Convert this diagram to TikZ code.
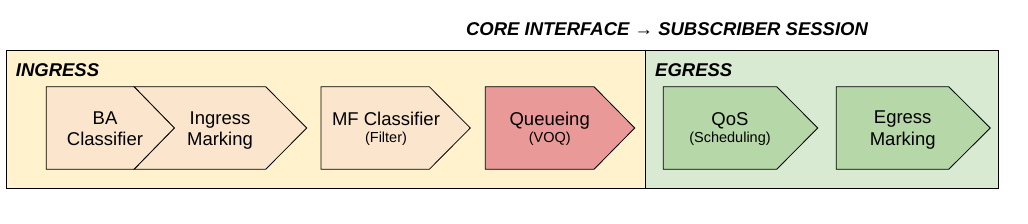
\documentclass[tikz,border=0pt]{standalone}
\usepackage{fontspec}
\setmainfont{Liberation Sans}
\begin{document}
\begin{tikzpicture}[x=1pt,y=-1pt,
  lbl/.style={anchor=base,inner sep=0pt,font=\fontsize{18.5}{21}\selectfont},
  sml/.style={anchor=base,inner sep=0pt,font=\fontsize{14.5}{17}\selectfont},
  ttl/.style={anchor=base west,inner sep=0pt,font=\fontsize{18.5}{21}\selectfont\bfseries\itshape},
  chev/.style={draw=black,line width=0.8pt,line join=miter}]
\definecolor{ingbg}{HTML}{FFF2CC}
\definecolor{egbg}{HTML}{D9EAD3}
\definecolor{ingbox}{HTML}{FCE5CD}
\definecolor{qbox}{HTML}{EA9999}
\definecolor{egbox}{HTML}{B6D7A8}
\useasboundingbox (0,0) rectangle (1028,224);
% title
\node[anchor=base,inner sep=0pt,font=\fontsize{18.5}{21}\selectfont\bfseries\itshape] (title) at (667,36) {CORE INTERFACE \textmd{→} SUBSCRIBER SESSION};
% panels
\draw[fill=ingbg,line width=1pt] (6.3,50.7) rectangle (645.3,188.3);
\draw[fill=egbg,line width=1pt] (645.3,50.7) rectangle (998.7,188.3);
\node[ttl] (ingress) at (15.7,76.5) {INGRESS};
\node[ttl] (egress) at (655,76.5) {EGRESS};
% chevrons
\draw[chev,fill=ingbox] (134,86.7) -- (265.7,86.7) -- (306.7,128) -- (265.7,169.3) -- (134,169.3) -- (174.3,128) -- cycle;
\draw[chev,fill=ingbox] (46.3,86.7) -- (134,86.7) -- (174.3,128) -- (134,169.3) -- (46.3,169.3) -- cycle;
\draw[chev,fill=ingbox] (321,86.7) -- (429.3,86.7) -- (470.3,128) -- (429.3,169.3) -- (321,169.3) -- cycle;
\draw[chev,fill=qbox] (485.3,86.7) -- (594,86.7) -- (634.7,128) -- (594,169.3) -- (485.3,169.3) -- cycle;
\draw[chev,fill=egbox] (663.3,86.7) -- (776.7,86.7) -- (817.7,128) -- (776.7,169.3) -- (663.3,169.3) -- cycle;
\draw[chev,fill=egbox] (836.3,86.7) -- (948.7,86.7) -- (990.3,128) -- (948.7,169.3) -- (836.3,169.3) -- cycle;
% labels
\node[lbl] (ba1) at (105,125) {BA};
\node[lbl] (ba2) at (105,146) {Classifier};
\node[lbl] (im1) at (220,125) {Ingress};
\node[lbl] (im2) at (220,146) {Marking};
\node[lbl] (mf1) at (386,125.5) {MF Classifier};
\node[sml] (mf2) at (386,143) {(Filter)};
\node[lbl] (q1) at (549.7,125.5) {Queueing};
\node[sml] (q2) at (549.7,143) {(VOQ)};
\node[lbl] (qos1) at (730,125.5) {QoS};
\node[sml] (qos2) at (730,143) {(Scheduling)};
\node[lbl] (em1) at (902.7,124) {Egress};
\node[lbl] (em2) at (902.7,145.5) {Marking};
\end{tikzpicture}
\end{document}
